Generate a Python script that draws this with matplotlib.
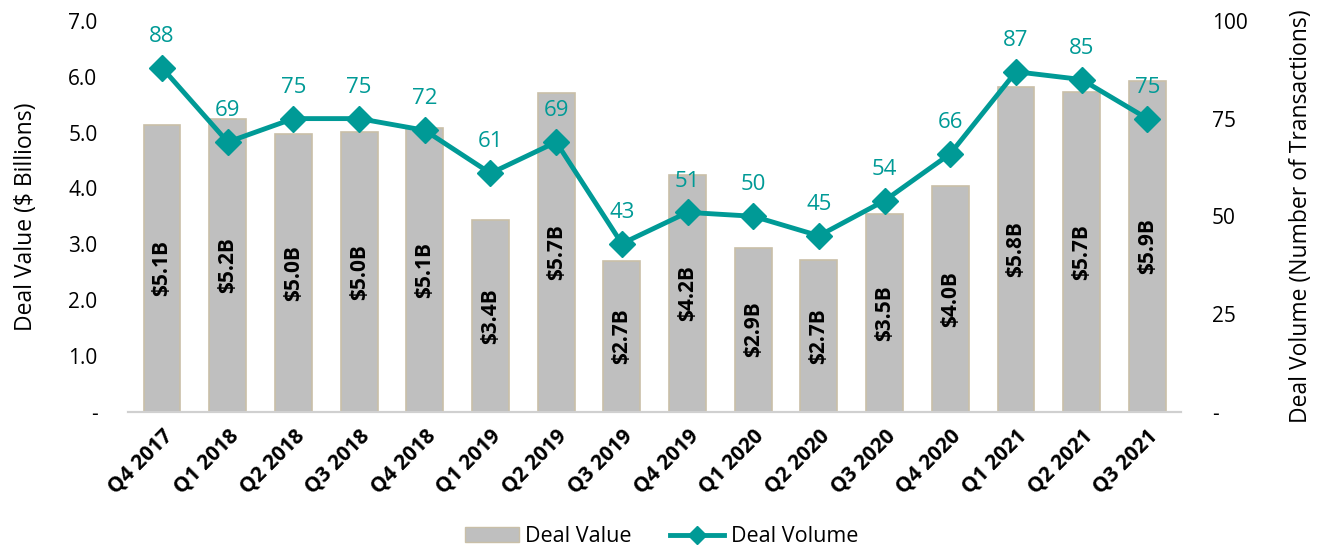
import numpy as np
import matplotlib.pyplot as plt
from matplotlib.lines import Line2D
from matplotlib.patches import Patch

quarters = ['Q4 2017', 'Q1 2018', 'Q2 2018', 'Q3 2018', 'Q4 2018', 'Q1 2019',
            'Q2 2019', 'Q3 2019', 'Q4 2019', 'Q1 2020', 'Q2 2020', 'Q3 2020',
            'Q4 2020', 'Q1 2021', 'Q2 2021', 'Q3 2021']
deal_value = [5.14, 5.24, 4.98, 5.01, 5.08, 3.43, 5.70, 2.70,
              4.24, 2.94, 2.71, 3.54, 4.04, 5.81, 5.72, 5.93]
deal_volume = [88, 69, 75, 75, 72, 61, 69, 43, 51, 50, 45, 54, 66, 87, 85, 75]

plt.rcParams['font.family'] = ['Open Sans', 'DejaVu Sans']

bar_face = '#bfbfbf'
bar_edge = '#c9bfa8'
teal = '#009a96'

fig = plt.figure(figsize=(13.23, 5.51), dpi=100)
ax = fig.add_axes([0.0967, 0.253, 0.7963, 0.709])
ax2 = ax.twinx()

x = np.arange(len(quarters))
bars = ax.bar(x, deal_value, width=0.56, color=bar_face, edgecolor=bar_edge,
              linewidth=1.2, zorder=2)
for xi, v in zip(x, deal_value):
    ax.text(xi, v / 2, f'${v:.1f}B', rotation=90, ha='center', va='center',
            fontsize=15, fontweight='bold', color='black', zorder=3)

ax.set_xlim(-0.52, len(quarters) - 0.48)
ax.set_ylim(0, 7)
ax.set_yticks(np.arange(0, 7.1, 1.0))
ax.set_yticklabels(['-'] + [f'{t:.1f}' for t in np.arange(1, 7.1, 1.0)])
ax.set_xticks(x)
ax.set_xticklabels(quarters, rotation=45, ha='right', rotation_mode='anchor',
                   fontsize=15, fontweight='bold')
ax.tick_params(axis='x', length=0, pad=10)
ax.tick_params(axis='y', length=0, labelsize=15, pad=22)
ax.set_ylabel('Deal Value ($ Billions)', fontsize=16.5, labelpad=22)

ax2.plot(x, deal_volume, color=teal, linewidth=3.5, marker='D',
         markersize=13, zorder=4)
for xi, v in zip(x, deal_volume):
    ax2.annotate(str(v), (xi, v), xytext=(0, 15), textcoords='offset points',
                 ha='center', va='bottom', fontsize=16, color=teal)
ax2.set_ylim(0, 100)
ax2.set_yticks([0, 25, 50, 75, 100])
ax2.set_yticklabels(['-', '25', '50', '75', '100'])
ax2.tick_params(axis='y', length=0, labelsize=15, pad=22)
ax2.set_ylabel('Deal Volume (Number of Transactions)', fontsize=16.5,
               rotation=90, labelpad=30)

for a in (ax, ax2):
    for s in ('top', 'left', 'right'):
        a.spines[s].set_visible(False)
    a.spines['bottom'].set_color('#d0d0d0')
    a.spines['bottom'].set_linewidth(1.5)
ax.set_zorder(ax2.get_zorder() - 1)
ax2.patch.set_visible(False)
ax.patch.set_visible(True)

handles = [Patch(facecolor=bar_face, edgecolor=bar_edge, label='Deal Value'),
           Line2D([0], [0], color=teal, linewidth=3.5, marker='D',
                  markersize=9, label='Deal Volume')]
fig.legend(handles=handles, loc='lower center', bbox_to_anchor=(0.5, -0.028),
           ncol=2, frameon=False, fontsize=15.5, handlelength=2.5,
           handletextpad=0.3, columnspacing=1.8)

fig.savefig('out.png', dpi=100)
